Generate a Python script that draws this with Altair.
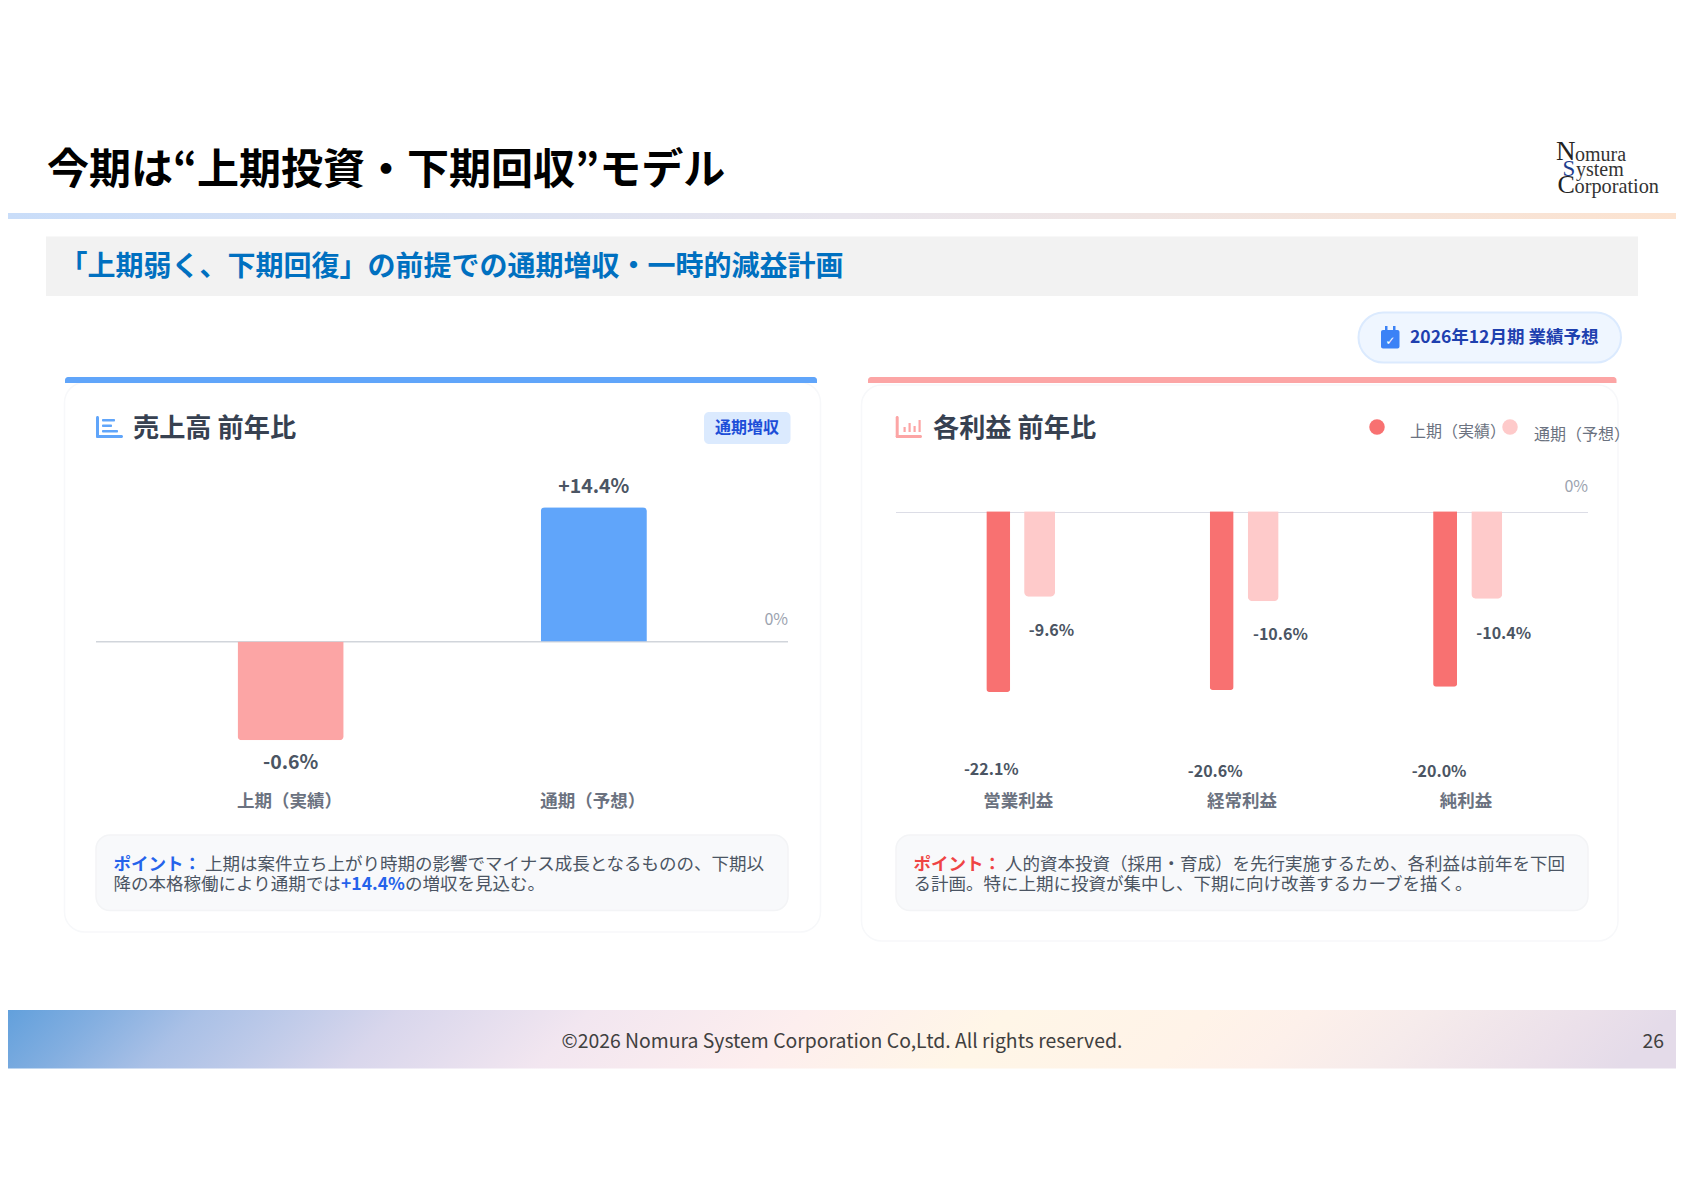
import altair as alt

# ---------- data ----------
sales_periods = ["上期（実績）", "通期（予想）"]
sales_yoy = [-0.6, 14.4]
sales_labels = ["-0.6%", "+14.4%"]

profit_items = ["営業利益", "経常利益", "純利益"]
profit_h1 = [-22.1, -20.6, -20.0]
profit_fy = [-9.6, -10.6, -10.4]

JP = "Noto Sans CJK JP"
SERIF = "Liberation Serif"
O = 8  # page margin


def rect(x0, y0, x1, y1, fill, stroke=None, sw=1, **kw):
    args = dict(color=fill, **kw)
    if stroke:
        args.update(stroke=stroke, strokeWidth=sw)
    return alt.Chart().mark_rect(**args).encode(
        x=alt.value(x0 - O), x2=alt.value(x1 - O), y=alt.value(y0 - O), y2=alt.value(y1 - O)
    )


def txt(s, x, y, size, color, weight="normal", align="left", font=JP):
    return alt.Chart().mark_text(
        text=s, font=font, fontSize=size, fontWeight=weight, color=color, align=align, baseline="middle"
    ).encode(x=alt.value(x - O), y=alt.value(y - O))


def grad(stops, tilt=0):
    return alt.LinearGradient(
        gradient="linear", x1=0, x2=1, y1=0, y2=tilt,
        stops=[alt.GradientStop(color=c, offset=o) for o, c in stops],
    )


layers = []

# ---------- header ----------
layers += [
    txt("今期は“上期投資・下期回収”モデル", 47, 170.5, 42, "#000000", "bold"),
    rect(8, 213, 1676, 219, grad([(0, "#c9ddf9"), (0.5, "#e9e6ee"), (1, "#fce3d0")])),
    rect(46, 236.5, 1638, 296, "#f2f2f2"),
    txt("「上期弱く、下期回復」の前提での通期増収・一時的減益計画", 59.5, 268, 28, "#0070c0", "bold"),
    txt("N", 1556, 152, 27, "#222222", font=SERIF),
    txt("omura", 1575, 155, 20, "#333333", font=SERIF),
    txt("S", 1562.5, 169, 23, "#1f3f8f", font=SERIF),
    txt("ystem", 1576, 170, 20, "#333333", font=SERIF),
    txt("C", 1557.5, 185, 26, "#222222", font=SERIF),
    txt("orporation", 1574.5, 187, 20.3, "#333333", font=SERIF),
]

# ---------- period pill ----------
layers += [
    rect(1358.5, 312.5, 1621, 362.5, "#eff6ff", "#dbeafe", 2, cornerRadius=25),
    rect(1381, 330, 1399.5, 348.5, "#3b82f6", cornerRadius=2),
    rect(1385, 326, 1387.5, 332, "#3b82f6"),
    rect(1393, 326, 1395.5, 332, "#3b82f6"),
    txt("✓", 1390.2, 340.5, 12, "#ffffff", "bold", "center", "DejaVu Sans"),
    txt("2026年12月期 業績予想", 1410, 338, 17.5, "#1e40af", "bold"),
]

# ---------- cards ----------
layers += [
    rect(64.5, 382.5, 820.5, 932, "#ffffff", "#f7f8fa", 1.5, cornerRadius=20),
    rect(65, 377, 817, 383, "#60a5fa", cornerRadiusTopLeft=5, cornerRadiusTopRight=5),
    rect(861.5, 385, 1618, 941, "#ffffff", "#f7f8fa", 1.5, cornerRadius=20),
    rect(868, 377, 1616.5, 383, "#fca5a5", cornerRadiusTopLeft=5, cornerRadiusTopRight=5),
]

# left heading
layers += [
    rect(96, 416, 99, 438, "#60a5fa", cornerRadius=1.5),
    rect(96, 435, 123, 438, "#60a5fa", cornerRadius=1.5),
    rect(102, 419, 115, 421.5, "#60a5fa", cornerRadius=1),
    rect(102, 424.5, 112, 427, "#60a5fa", cornerRadius=1),
    rect(102, 430, 118, 432.5, "#60a5fa", cornerRadius=1),
    txt("売上高 前年比", 133, 429, 26.2, "#374151", "bold"),
    rect(704, 412, 790.5, 444, "#dbeafe", cornerRadius=5),
    txt("通期増収", 747, 428, 16, "#1d4ed8", "bold", "center"),
]

# right heading and legend
layers += [
    rect(895.7, 416, 898.7, 438, "#fca5a5", cornerRadius=1.5),
    rect(895.7, 435, 922, 438, "#fca5a5", cornerRadius=1.5),
    rect(903.5, 427, 905.7, 432, "#fca5a5"),
    rect(908.5, 423, 910.7, 432, "#fca5a5"),
    rect(913.5, 426, 915.7, 432, "#fca5a5"),
    rect(918.5, 420, 920.7, 432, "#fca5a5"),
    txt("各利益 前年比", 933, 429, 26.2, "#374151", "bold"),
    alt.Chart().mark_circle(size=240, color="#f87171", opacity=1).encode(x=alt.value(1377 - O), y=alt.value(427 - O)),
    alt.Chart().mark_circle(size=240, color="#fecaca", opacity=1).encode(x=alt.value(1510 - O), y=alt.value(427 - O)),
    txt("上期（実績）", 1410, 432, 16, "#6b7280"),
    txt("通期（予想）", 1534, 435, 16, "#6b7280"),
]

# ---------- left chart ----------
layers += [
    rect(96, 641, 788, 642.5, "#d1d5db"),
    txt("0%", 788, 620, 16, "#9ca3af", align="right"),
]
sales_data = alt.Data(values=[
    {"period": p, "yoy": v, "label": l} for p, v, l in zip(sales_periods, sales_yoy, sales_labels)
])
sales_x = alt.X("period:N", sort=sales_periods, axis=None,
                scale=alt.Scale(domain=sales_periods, range=[139 - O, 745.4 - O], paddingInner=0.65, paddingOuter=0.325))
sales_y = alt.Y("yoy:Q", axis=None,
                scale=alt.Scale(domain=[-0.6, 0, 14.4], range=[740.3 - O, 641.5 - O, 507.3 - O], nice=False, zero=False))
layers.append(
    alt.Chart(sales_data).transform_filter("datum.yoy < 0")
    .mark_bar(color="#fca5a5", cornerRadiusBottomLeft=4, cornerRadiusBottomRight=4)
    .encode(x=sales_x, y=sales_y)
)
layers.append(
    alt.Chart(sales_data).transform_filter("datum.yoy >= 0")
    .mark_bar(color="#60a5fa", cornerRadiusTopLeft=4, cornerRadiusTopRight=4)
    .encode(x=sales_x, y=sales_y)
)
for test, dy in (("datum.yoy < 0", 23), ("datum.yoy >= 0", -20)):
    layers.append(
        alt.Chart(sales_data).transform_filter(test)
        .mark_text(font=JP, fontSize=19.5, fontWeight="bold", color="#4b5563", baseline="middle", dy=dy)
        .encode(x=sales_x, y=sales_y, text="label:N")
    )
layers.append(
    alt.Chart(sales_data).mark_text(font=JP, fontSize=17.5, fontWeight="bold", color="#6b7280", baseline="middle").encode(
        x=sales_x.scale(alt.Scale(domain=sales_periods, range=[139 - O - 1, 745.4 - O - 1], paddingInner=0.65, paddingOuter=0.325)),
        y=alt.value(802 - O), text="period:N",
    )
)

# ---------- right chart ----------
layers += [
    rect(896, 512, 1588, 513, "#dcdde6"),
    txt("0%", 1588, 487, 16, "#9ca3af", align="right"),
]
h1_y = alt.Scale(domain=[-22.1, -20.6, -20.0, 0], range=[692 - O, 690 - O, 686.7 - O, 511.3 - O], nice=False, zero=False)
fy_y = alt.Scale(domain=[-10.6, -10.4, -9.6, 0], range=[601.3 - O, 598.7 - O, 596.7 - O, 511.3 - O], nice=False, zero=False)


def band_scale(center0, step, width):
    n = len(profit_items)
    inner = 1 - width / step
    outer = inner / 2
    start = center0 - step / 2
    return alt.Scale(domain=profit_items, range=[start - O, start + n * step - O], paddingInner=inner, paddingOuter=outer)


h1_data = alt.Data(values=[{"item": i, "v": v, "l": f"{v:.1f}%"} for i, v in zip(profit_items, profit_h1)])
fy_data = alt.Data(values=[{"item": i, "v": v, "l": f"{v:.1f}%"} for i, v in zip(profit_items, profit_fy)])
layers.append(
    alt.Chart(h1_data).mark_bar(color="#f87171", cornerRadiusBottomLeft=3, cornerRadiusBottomRight=3).encode(
        x=alt.X("item:N", sort=profit_items, axis=None, scale=band_scale(998.3, 223.4, 24)),
        y=alt.Y("v:Q", axis=None, scale=h1_y),
    )
)
layers.append(
    alt.Chart(fy_data).mark_bar(color="#fecaca", cornerRadiusBottomLeft=5, cornerRadiusBottomRight=5).encode(
        x=alt.X("item:N", sort=profit_items, axis=None, scale=band_scale(1039.6, 223.6, 31)),
        y=alt.Y("v:Q", axis=None, scale=fy_y),
    )
)
# value labels sit off the bar tips in the source slide
h1_nudge = [(-7, 78), (-6.5, 82), (-6, 85.5)]
fy_nudge = [(11.9, 34.3), (17.2, 34), (16.9, 35.6)]
for idx, (dx, dy) in enumerate(h1_nudge):
    layers.append(
        alt.Chart(alt.Data(values=[{"item": profit_items[idx], "v": profit_h1[idx], "l": f"{profit_h1[idx]:.1f}%"}]))
        .mark_text(font=JP, fontSize=16, fontWeight="bold", color="#4b5563", baseline="middle", dx=dx, dy=dy)
        .encode(x=alt.X("item:N", sort=profit_items, axis=None, scale=band_scale(998.3, 223.4, 24)),
                y=alt.Y("v:Q", axis=None, scale=h1_y), text="l:N")
    )
for idx, (dx, dy) in enumerate(fy_nudge):
    layers.append(
        alt.Chart(alt.Data(values=[{"item": profit_items[idx], "v": profit_fy[idx], "l": f"{profit_fy[idx]:.1f}%"}]))
        .mark_text(font=JP, fontSize=16, fontWeight="bold", color="#4b5563", baseline="middle", dx=dx, dy=dy)
        .encode(x=alt.X("item:N", sort=profit_items, axis=None, scale=band_scale(1039.6, 223.6, 31)),
                y=alt.Y("v:Q", axis=None, scale=fy_y), text="l:N")
    )
layers.append(
    alt.Chart(h1_data).mark_text(font=JP, fontSize=17.5, fontWeight="bold", color="#6b7280", baseline="middle").encode(
        x=alt.X("item:N", sort=profit_items, axis=None, scale=band_scale(1018.2, 223.9, 24)),
        y=alt.value(802 - O), text="item:N",
    )
)

# ---------- point boxes ----------
layers += [
    rect(96, 835, 788, 910.5, "#f8f9fb", "#f3f4f6", 1.5, cornerRadius=14),
    txt("ポイント：", 113.5, 864.5, 17.5, "#2563eb", "bold"),
    txt("上期は案件立ち上がり時期の影響でマイナス成長となるものの、下期以", 205, 864.5, 17.5, "#4b5563"),
    txt("降の本格稼働により通期では", 113.5, 885, 17.5, "#4b5563"),
    txt("+14.4%", 341, 885, 17.5, "#2563eb", "bold"),
    txt("の増収を見込む。", 405, 885, 17.5, "#4b5563"),
    rect(896, 835, 1588, 910.5, "#f8f9fb", "#f3f4f6", 1.5, cornerRadius=14),
    txt("ポイント：", 913.5, 864.5, 17.5, "#ef4444", "bold"),
    txt("人的資本投資（採用・育成）を先行実施するため、各利益は前年を下回", 1005, 864.5, 17.5, "#4b5563"),
    txt("る計画。特に上期に投資が集中し、下期に向け改善するカーブを描く。", 913.5, 885, 17.5, "#4b5563"),
]

# ---------- footer ----------
layers += [
    rect(8, 1010, 1676, 1068.5, grad([
        (0, "#62a0dc"), (0.055, "#82aee0"), (0.115, "#a9c0e6"), (0.175, "#c0cbe9"), (0.235, "#d8d6ec"),
        (0.35, "#f2e6f0"), (0.48, "#fdeeee"), (0.6, "#fff6e7"), (0.72, "#fff3e8"), (0.78, "#fdf0ea"),
        (0.85, "#f6ebeb"), (0.95, "#ebe0ea"), (1, "#e4dbe9"),
    ], tilt=0.035)),
    txt("©2026 Nomura System Corporation Co,Ltd. All rights reserved.", 561.5, 1041.5, 19.4, "#404040"),
    txt("26", 1664, 1041.5, 19.4, "#404040", align="right"),
]

chart = (
    alt.layer(*layers)
    .resolve_scale(x="independent", y="independent", color="independent")
    .properties(width=1668, height=1100, padding=0, autosize=alt.AutoSizeParams(type="none"), background="#ffffff")
    .configure_view(stroke=None)
)
chart.save("out.html", embed_options={"renderer": "svg", "actions": False})
